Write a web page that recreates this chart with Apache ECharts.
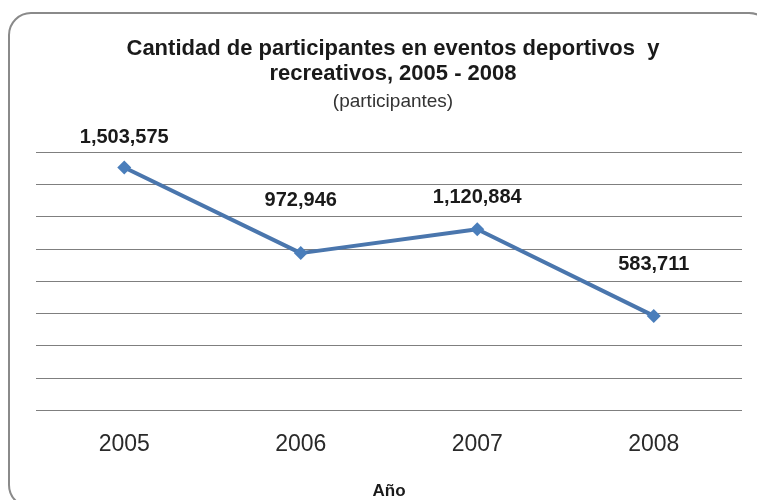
<!DOCTYPE html>
<html>
<head>
<meta charset="utf-8">
<script src="https://cdn.jsdelivr.net/npm/echarts@6/dist/echarts.min.js"></script>
<style>
  html, body { margin: 0; padding: 0; background: #fff; }
  #main { width: 757px; height: 500px; }
</style>
</head>
<body>
<div id="main"></div>
<script>
var years = ['2005', '2006', '2007', '2008']
var participantes = [1503575, 972946, 1120884, 583711]
// distance of each value label above its point (Excel placed them unevenly)
var labelDist = [13, 36, 15, 34]

var chart = echarts.init(document.getElementById('main'))
var font = '"Liberation Sans", Arial, sans-serif'

var option = {
  backgroundColor: '#fff',
  animation: false,
  graphic: [{
    type: 'rect',
    shape: { x: 9, y: 13, width: 762, height: 494, r: 22 },
    style: { fill: 'none', stroke: '#8a8a8a', lineWidth: 2 }
  }],
  title: {
    text: 'Cantidad de participantes en eventos deportivos  y\nrecreativos, 2005 - 2008',
    subtext: '(participantes)',
    left: 388,
    textAlign: 'center',
    top: 31,
    itemGap: 5,
    textStyle: { fontFamily: font, fontSize: 22, fontWeight: 'bold', color: '#1a1a1a', lineHeight: 25 },
    subtextStyle: { fontFamily: font, fontSize: 19, color: '#333', lineHeight: 22 }
  },
  grid: { left: 36, right: 15, top: 152, bottom: 90, outerBoundsMode: 'none' },
  xAxis: {
    type: 'category',
    data: years,
    boundaryGap: true,
    name: 'Año',
    nameLocation: 'middle',
    nameGap: 73,
    nameTextStyle: { fontFamily: font, fontSize: 17, fontWeight: 'bold', color: '#1a1a1a' },
    axisLine: { show: false },
    axisTick: { show: false },
    axisLabel: { fontFamily: font, fontSize: 23, color: '#2a2a2a', margin: 23 }
  },
  yAxis: {
    type: 'value',
    min: 0,
    max: 1600000,
    interval: 200000,
    axisLabel: { show: false },
    axisLine: { show: false },
    axisTick: { show: false },
    splitLine: { lineStyle: { color: '#7f7f7f', width: 1 } }
  },
  series: [{
    type: 'line',
    data: participantes.map(function (v, i) {
      return { value: v, label: { distance: labelDist[i] } }
    }),
    symbol: 'diamond',
    symbolSize: 14,
    lineStyle: { color: '#4a76ad', width: 4 },
    itemStyle: { color: '#4a7ebb' },
    label: {
      show: true,
      position: 'top',
      fontFamily: font,
      fontSize: 20,
      fontWeight: 'bold',
      color: '#1a1a1a',
      formatter: function (p) { return p.value.toLocaleString('en-US') }
    }
  }]
}

chart.setOption(option)
</script>
</body>
</html>
